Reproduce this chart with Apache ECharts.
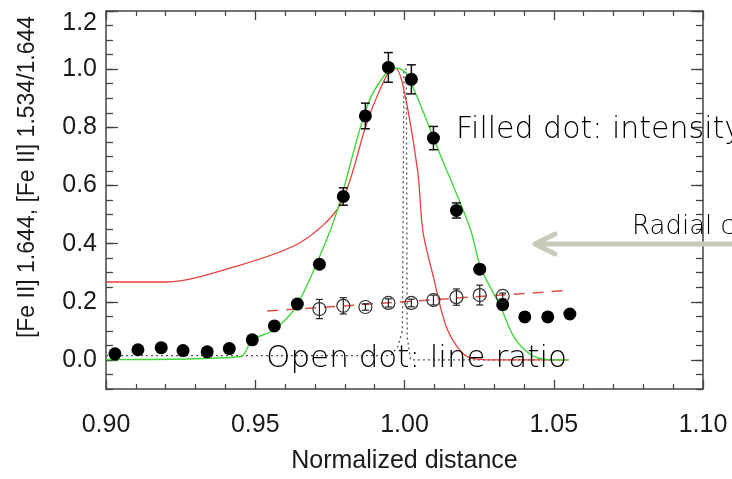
<!DOCTYPE html>
<html>
<head>
<meta charset="utf-8">
<script src="https://cdn.jsdelivr.net/npm/echarts@6/dist/echarts.min.js"></script>
<style>
html, body { margin: 0; padding: 0; background: #fff; }
#chart { width: 732px; height: 479px; }
</style>
</head>
<body>
<div id="chart"></div>
<script>
// filled dots: intensity profile
const filledX = [0.903, 0.9107, 0.9185, 0.9258, 0.9339, 0.9413, 0.949, 0.9564, 0.9641, 0.9715, 0.9795,
  0.9869, 0.9946, 1.0023, 1.0097, 1.0174, 1.0252, 1.0329, 1.0403, 1.048, 1.0554]
const filledY = [0.021, 0.035, 0.042, 0.032, 0.028, 0.039, 0.069, 0.117, 0.192, 0.329, 0.562,
  0.839, 1.006, 0.965, 0.763, 0.514, 0.312, 0.190, 0.148, 0.148, 0.158]
const filledErr = [0, 0, 0, 0, 0, 0, 0, 0, 0, 0, 0.030,
  0.044, 0.051, 0.050, 0.040, 0.026, 0.010, 0, 0, 0, 0]

// open dots: line ratio
const openX = [0.9715, 0.9795, 0.9869, 0.9946, 1.0023, 1.0097, 1.0174, 1.0252, 1.0329]
const openY = [0.175, 0.186, 0.182, 0.196, 0.196, 0.206, 0.216, 0.223, 0.220]
const openErr = [0.033, 0.028, 0.011, 0.014, 0.013, 0.017, 0.028, 0.034, 0.010]

// model curves
const greenX = [0.900, 0.945, 0.949, 0.9564, 0.964, 0.9742, 0.9785, 0.9876, 0.9943, 0.9977, 1.001,
  1.012, 1.022, 1.0255, 1.0322, 1.0366, 1.0423, 1.048, 1.0547]
const greenY = [0.001, 0.011, 0.069, 0.104, 0.189, 0.421, 0.548, 0.876, 0.992, 1.003, 0.979,
  0.705, 0.452, 0.319, 0.182, 0.080, 0.018, 0.001, 0.0]
const redX = [0.900, 0.9205, 0.9426, 0.9651, 0.9785, 0.9876, 0.9946, 0.9970, 0.9997, 1.0044,
  1.0062, 1.0097, 1.0144, 1.0211, 1.030, 1.0547]
const redY = [0.268, 0.268, 0.319, 0.404, 0.535, 0.822, 0.990, 1.003, 0.934, 0.650,
  0.440, 0.285, 0.104, 0.011, 0.0, 0.0]
const dottedX = [0.900, 0.9953, 0.9977, 0.9993, 0.9998, 1.0006, 1.0009, 1.0020, 1.0550]
const dottedY = [0.015, 0.015, 0.045, 0.100, 1.000, 1.000, 0.080, 0.0, 0.0]
const dashedX = [0.954, 1.055]
const dashedY = [0.168, 0.239]

const yLabelValues = [0, 0.2, 0.4, 0.6, 0.8, 1.0, 1.2]

function zip (xs, ys) {
  return xs.map((x, i) => [x, ys[i]])
}

function errorBars (xs, ys, es, cap, width, color) {
  return {
    type: 'custom',
    z: 3,
    data: xs.map((x, i) => [x, ys[i] - es[i], ys[i] + es[i]]),
    renderItem: function (params, api) {
      if (api.value(2) - api.value(1) <= 0) return null
      const lo = api.coord([api.value(0), api.value(1)])
      const hi = api.coord([api.value(0), api.value(2)])
      const st = { stroke: color, lineWidth: width }
      return {
        type: 'group',
        children: [
          { type: 'line', shape: { x1: lo[0], y1: lo[1], x2: hi[0], y2: hi[1] }, style: st },
          { type: 'line', shape: { x1: lo[0] - cap, y1: lo[1], x2: lo[0] + cap, y2: lo[1] }, style: st },
          { type: 'line', shape: { x1: hi[0] - cap, y1: hi[1], x2: hi[0] + cap, y2: hi[1] }, style: st }
        ]
      }
    }
  }
}

const axisColor = '#444'
const textFont = 'Liberation Sans, Arial, sans-serif'
const noteFont = 'DejaVu Sans, sans-serif'

function xAxisDef (pos, withLabel) {
  return {
    type: 'value',
    position: pos,
    min: 0.9,
    max: 1.1,
    interval: 0.05,
    name: withLabel ? 'Normalized distance' : '',
    nameLocation: 'middle',
    nameGap: 60,
    nameTextStyle: { fontSize: 25, color: '#1a1a1a', fontFamily: textFont },
    axisLine: { show: true, onZero: false, lineStyle: { color: axisColor, width: 1.5 } },
    axisTick: { show: true, inside: true, length: 9, lineStyle: { color: axisColor, width: 1.3 } },
    minorTick: { show: true, splitNumber: 5, length: 5, lineStyle: { color: axisColor, width: 1.2 } },
    axisLabel: {
      show: withLabel,
      margin: 24,
      fontSize: 25,
      color: '#1a1a1a',
      fontFamily: textFont,
      formatter: v => v.toFixed(2)
    },
    splitLine: { show: false }
  }
}

function yAxisDef (pos, major, withLabel) {
  const ax = {
    type: 'value',
    position: pos,
    offset: 0,
    min: -0.1,
    max: 1.2,
    interval: 0.05,
    axisLine: { show: major, onZero: false, lineStyle: { color: axisColor, width: 1.5 } },
    axisTick: { show: true, inside: true, length: major ? 12 : 7, lineStyle: { color: axisColor, width: 1.3 } },
    axisLabel: { show: false },
    splitLine: { show: false }
  }
  if (major) {
    ax.axisTick.customValues = yLabelValues
    ax.axisLabel = {
      show: withLabel,
      customValues: yLabelValues,
      margin: 9,
      fontSize: 25,
      color: '#1a1a1a',
      fontFamily: textFont,
      // the top label sits a little below its tick, as in the original
      formatter: v => v > 1.15 ? '{top|' + v.toFixed(1) + '}' : v.toFixed(1),
      rich: {
        top: { fontSize: 25, fontFamily: textFont, color: '#1a1a1a', padding: [24, 0, 0, 0] }
      }
    }
  }
  return ax
}

var chart = echarts.init(document.getElementById('chart'), null, { renderer: 'canvas' })

var option = {
  animation: false,
  backgroundColor: '#fff',
  grid: { left: 106, right: 29, top: 11, bottom: 87 },
  xAxis: [xAxisDef('bottom', true), xAxisDef('top', false)],
  yAxis: [
    yAxisDef('left', true, true),
    yAxisDef('left', false, false),
    yAxisDef('right', true, false),
    yAxisDef('right', false, false)
  ],
  series: [
    {
      type: 'line',
      data: zip(dottedX, dottedY),
      symbol: 'none',
      lineStyle: { color: '#555', width: 1.3, type: [2, 3] },
      z: 1
    },
    {
      type: 'line',
      data: zip(redX, redY),
      symbol: 'none',
      smooth: 0.3,
      lineStyle: { color: '#e8403c', width: 1.3 },
      z: 2
    },
    {
      type: 'line',
      data: zip(greenX, greenY),
      symbol: 'none',
      smooth: 0.3,
      lineStyle: { color: '#3fd83a', width: 1.4 },
      z: 2
    },
    {
      type: 'line',
      data: zip(dashedX, dashedY),
      symbol: 'none',
      lineStyle: { color: '#d9504c', width: 1.5, type: [11, 8] },
      z: 2
    },
    errorBars(filledX, filledY, filledErr, 4.5, 1.5, '#111'),
    {
      type: 'scatter',
      data: zip(filledX, filledY),
      symbol: 'circle',
      symbolSize: 13,
      itemStyle: { color: '#000', opacity: 1 },
      z: 4
    },
    errorBars(openX, openY, openErr, 3.5, 1.2, '#222'),
    {
      type: 'scatter',
      data: zip(openX, openY),
      symbol: 'circle',
      symbolSize: 13,
      itemStyle: { color: 'rgba(255,255,255,0)', borderColor: '#333', borderWidth: 1.2, opacity: 1 },
      z: 4
    }
  ],
  graphic: [
    {
      type: 'text',
      x: 28,
      y: 177,
      rotation: Math.PI / 2,
      style: {
        text: '[Fe II] 1.644, [Fe II] 1.534/1.644',
        font: '23px ' + textFont,
        fill: '#1a1a1a',
        align: 'center',
        verticalAlign: 'middle'
      }
    },
    {
      type: 'text',
      left: 456,
      top: 115,
      z: 20,
      style: { text: 'Filled dot: intensity', font: '200 30px ' + noteFont, fill: '#000' }
    },
    {
      type: 'text',
      left: 266,
      top: 343,
      z: 20,
      style: { text: 'Open dot: line ratio', font: '200 31px ' + noteFont, fill: '#000' }
    },
    {
      type: 'text',
      left: 632,
      top: 214,
      z: 20,
      style: { text: 'Radial cut', font: '200 26px ' + noteFont, fill: '#000' }
    },
    {
      type: 'polyline',
      z: 19,
      shape: { points: [[536, 244], [732, 244]] },
      style: { stroke: '#c8cbb9', lineWidth: 5, fill: null }
    },
    {
      type: 'polyline',
      z: 19,
      shape: { points: [[555, 234], [535, 244], [555, 254]] },
      style: { stroke: '#c8cbb9', lineWidth: 5, fill: null, lineCap: 'round', lineJoin: 'round' }
    }
  ]
}

chart.setOption(option)
</script>
</body>
</html>
